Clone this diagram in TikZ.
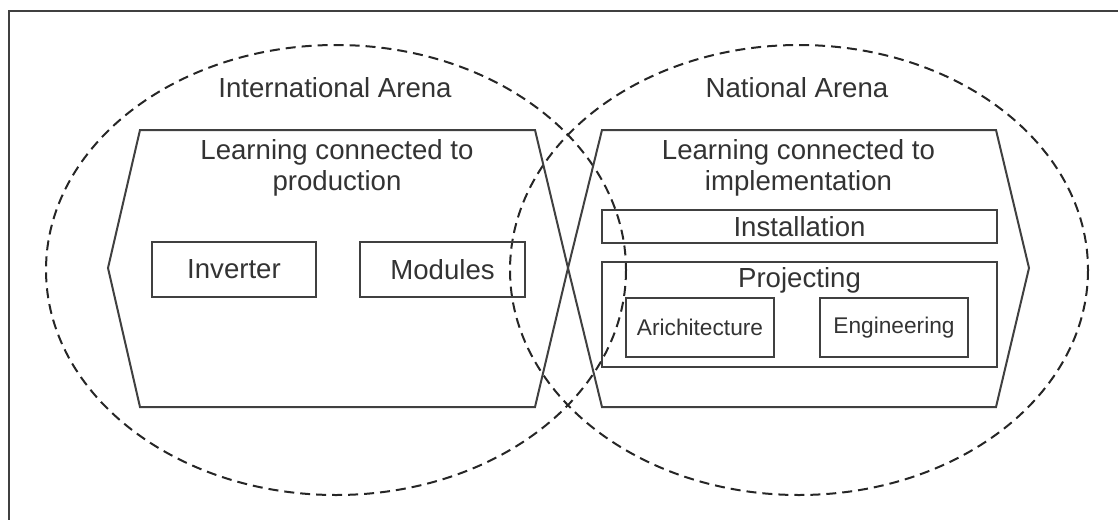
\documentclass[tikz,border=0pt]{standalone}
\usepackage{fontspec}
\setmainfont{Liberation Sans}
\usetikzlibrary{positioning}
\tikzset{
  arena/.style={draw=black!85, line width=2pt, dash pattern=on 10pt off 6pt},
  hexa/.style={draw=black!75, line width=2pt},
  field/.style={draw=black!75, line width=2pt, inner sep=0pt},
  big/.style={font=\fontsize{27.6}{31}\selectfont, text=black!80},
  small/.style={font=\fontsize{22.7}{27}\selectfont, text=black!80}
}

\begin{document}
\begin{tikzpicture}[x=1pt,y=-1pt]
  \useasboundingbox (0,0) rectangle (1118,519);
  \draw[line width=2.2pt, black!75] (9,530) -- (9,11) -- (1130,11);
  % the two arenas
  \draw[arena] (336,270) ellipse (290 and 225);
  \draw[arena] (799,270) ellipse (289 and 225);
  \node[big] (intl) at (335,88) {International Arena};
  \node[big] (natl) at (797,88) {National Arena};
  % learning fields
  \draw[hexa] (140,130) -- (535,130) -- (568,268) -- (535,407) -- (140,407) -- (108,268) -- cycle;
  \draw[hexa] (602,130) -- (996,130) -- (1029,268) -- (996,407) -- (602,407) -- (568,268) -- cycle;
  \node[big, align=center] (prod) at (337,167.5) {Learning connected to\\production};
  \node[big, align=center] (impl) at (798.5,167.5) {Learning connected to\\implementation};
  \node[field, big, minimum width=164pt, minimum height=55pt] (inverter) at (234,269.5) {Inverter};
  \node[field, big, minimum width=165pt, minimum height=55pt] (modules) at (442.5,269.5) {Modules};
  \node[field, big, minimum width=395pt, minimum height=33pt] (install) at (799.5,226.5) {Installation};
  \node[field, minimum width=395pt, minimum height=105pt] (project) at (799.5,314.5) {};
  \node[big] (projtxt) at (799.5,280) {Projecting};
  \node[field, small, minimum width=148pt, minimum height=59pt] (archi) at (700,327.5) {Arichitecture};
  \node[field, small, minimum width=148pt, minimum height=59pt] (engin) at (894,327.5) {Engineering};
\end{tikzpicture}
\end{document}
